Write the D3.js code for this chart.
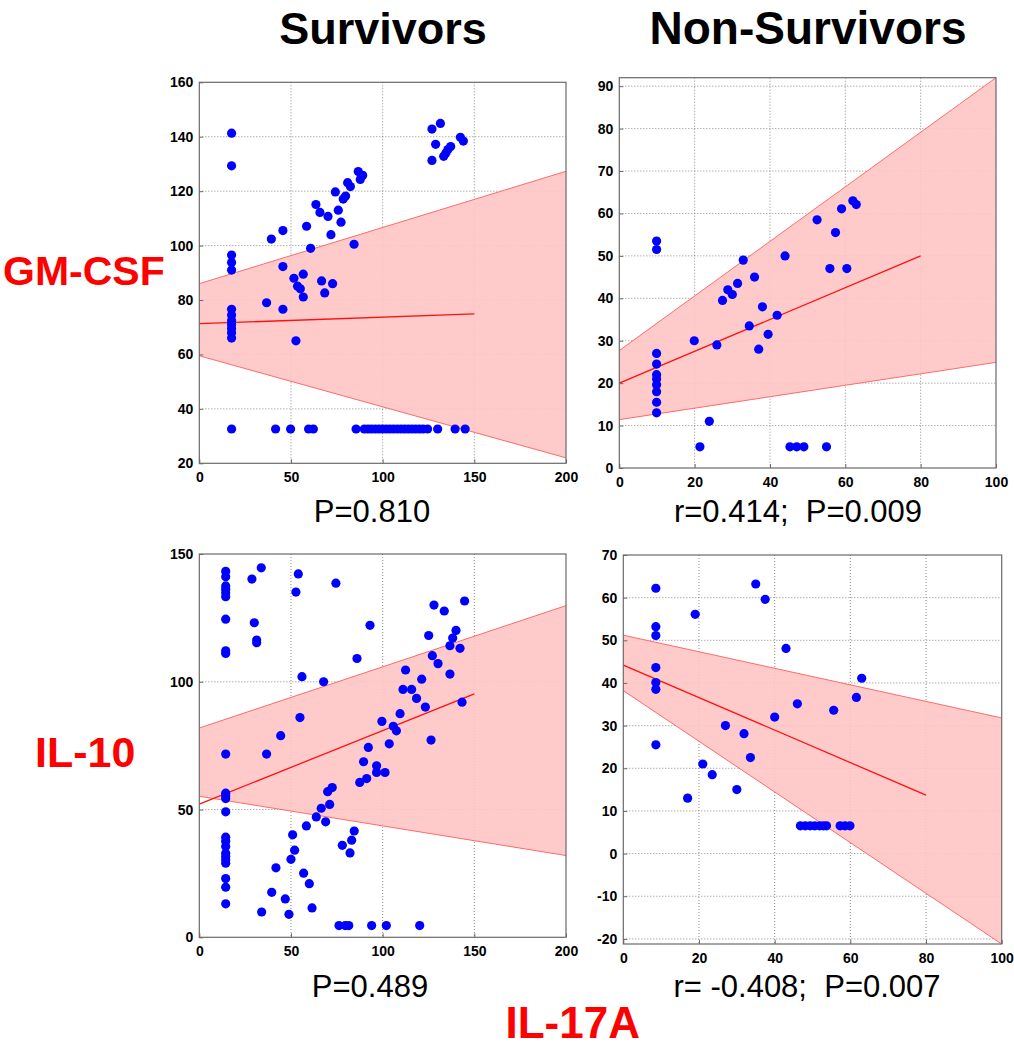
<!DOCTYPE html>
<html><head><meta charset="utf-8">
<script src="https://cdn.jsdelivr.net/npm/d3@7"></script>
<style>
html,body{margin:0;padding:0;background:#fff;}
svg{display:block;font-family:"Liberation Sans",Arial,sans-serif;}
</style></head>
<body>
<script>
// ---------- DATA ----------
// Panel 1: GM-CSF, Survivors
const gmSurvX = [17.6,17.6,17.6,17.6,17.6,17.6,17.6,17.6,17.6,17.6,17.6,17.6,17.6,
  39.3,45.6,45.6,51.6,56.7,58.5,60.7,63.6,65.8,66.7,70.2,71.8,74.2,75.8,77.3,78.5,79.8,80.9,82.4,84.4,86.7,87.8,89.1,
  126.9,126.9,128.9,131.5,133.3,134.5,135.6,137.1,142.4,144,
  53.6,55.1,56.7,68.4,72.7,36.7,45.6,52.7,
  41.6,49.8,59.6,62.2,85.5,90,92,94,96,98,100,102,104,106,108,110,112,114,116,118,120,122,124.5,130,139.5,145];
const gmSurvY = [141.3,129.3,96.5,93.8,91,76.6,74.5,72.5,71,69.5,68,66,32.6,
  102.4,105.5,92.3,88,89.5,107.1,99,115.1,112.2,87,110.7,104,119.7,113,108.6,117.1,118.2,123.1,121.7,100.5,127.2,124.3,125.8,
  142.8,131.3,137.2,144.9,132.8,134,135.3,136.4,139.8,138.4,
  85.1,84.1,81.1,82.6,86,79,76.6,65,
  32.6,32.6,32.6,32.6,32.6,32.6,32.6,32.6,32.6,32.6,32.6,32.6,32.6,32.6,32.6,32.6,32.6,32.6,32.6,32.6,32.6,32.6,32.6,32.6,32.6,32.6];
const gmSurvBandX = [0, 200];
const gmSurvUpper = [86, 127.3];
const gmSurvLower = [59.5, 22];
const gmSurvFitX = [0, 150];
const gmSurvFitY = [71.3, 74.9];

// Panel 2: GM-CSF, Non-Survivors
const gmNonX = [9.9,9.9,32.9,44,52.5,57.4,59,62,62.9,55.9,60.4,35.9,28.8,31.4,30,27.4,38,41.9,34.5,39.5,37,19.9,25.9,
  9.9,9.9,9.9,9.9,9.9,9.9,9.9,9.9,23.9,21.4,45.3,47.1,49,55];
const gmNonY = [53.5,51.5,49,50,58.5,55.5,61.1,63,62.1,47,47,45,42,43.5,40.9,39.5,38,36,33.5,31.5,28,30,29,
  27,24.5,22,21,19.6,18,15.5,13,11,5,5,5,5,5];
const gmNonBandX = [0, 100];
const gmNonUpper = [27.7, 92];
const gmNonLower = [11.4, 24.9];
const gmNonFitX = [0, 80];
const gmNonFitY = [20, 50];

// Panel 3: IL-10, Survivors
const il10SurvX = [14.4,14.4,14.4,14.4,14.4,14.4,14.4,14.4,14.4,14.4,14.4,14.4,14.4,14.4,14.4,14.4,14.4,14.4,14.4,14.4,14.4,14.4,14.4,14.4,
  28.7,33.8,30,31.3,31.3,54,52.7,56,67.8,74.5,86,93.1,54.9,44.4,99.6,105.8,107.5,109.5,112.5,111.1,115.8,118.5,121.3,123.3,125.1,127.1,128,130.2,133.6,136.7,136.7,138.2,140,142.2,143.3,144.7,
  36.7,34,39.5,41.8,46.9,48.9,50,50.9,52,56.9,58.4,60,61.5,63.8,66.5,68.9,70,71.1,72.5,78,82.2,83.1,84.5,87.5,89.6,91.3,92.2,96.7,96.7,101.3,103.6,126.4,
  76.2,79.6,81.5,94,102,120.2];
const il10SurvY = [143.2,141.1,137.5,136.2,134.8,133.3,124.5,112.1,111.1,71.7,56.4,55.4,54.3,49.1,39.2,37.6,35.5,32.9,31.6,30.3,29,23,19.6,13.1,
  140.2,144.6,123.1,116.3,115.3,142.2,135.1,102,100,138.6,109.1,122.1,86,78.9,84.5,82.6,80.8,87.5,104.6,97,97,93.5,101,90.1,118.1,110.2,130,107.1,127.7,114.1,103,117.1,120.1,113.1,92,131.6,
  71.7,9.9,17.6,27.2,15,9,30.5,40.1,34.1,25.1,43.6,21,11.5,47.1,50.5,45.2,57,52,58.6,36,33,38,41.6,60.6,68.7,62.1,74.3,67.1,64.5,64.5,75.7,77.2,
  4.6,4.6,4.6,4.6,4.6,4.6];
const il10SurvBandX = [0, 200];
const il10SurvUpper = [81.9, 129.8];
const il10SurvLower = [55.2, 32];
const il10SurvFitX = [0, 150];
const il10SurvFitY = [52.1, 95.3];

// Panel 4: IL-10, Non-Survivors
const il10NonX = [8.6,8.6,8.6,8.6,8.6,8.6,8.6,19,35,37.5,43,63,61.6,46,55.6,40,27,31.9,17,21,23.5,30,33.6,
  46.8,48.1,49.4,50.6,51.9,52.9,53.7,57.3,58.6,59.9];
const il10NonY = [62.2,53.2,51.1,43.6,40.1,38.5,25.5,56.1,63.2,59.6,48.1,41.1,36.6,35.1,33.6,32,30,28.1,13,21,18.5,15,22.5,
  6.5,6.5,6.5,6.5,6.5,6.5,6.5,6.5,6.5,6.5];
const il10NonBandX = [0, 100];
const il10NonUpper = [51.2, 31.8];
const il10NonLower = [38.2, -21.2];
const il10NonFitX = [0, 80];
const il10NonFitY = [44.2, 13.7];

// Tick values
const xTicks200 = [0, 50, 100, 150, 200];
const xTicks100 = [0, 20, 40, 60, 80, 100];
const yTicksGmSurv = [20, 40, 60, 80, 100, 120, 140, 160];
const yTicksGmNon = [0, 10, 20, 30, 40, 50, 60, 70, 80, 90];
const yTicksIl10Surv = [0, 50, 100, 150];
const yTicksIl10Non = [-20, -10, 0, 10, 20, 30, 40, 50, 60, 70];

// Text
const colTitles = ["Survivors", "Non-Survivors"];
const rowTitles = ["GM-CSF", "IL-10"];
const xTitle = "IL-17A";
const stats = ["P=0.810", "r=0.414;  P=0.009", "P=0.489", "r= -0.408;  P=0.007"];

// ---------- DRAW ----------
const W = 1014, H = 1050;
const svg = d3.select("body").append("svg").attr("width", W).attr("height", H);

const panels = [
  {box:[199.3,566,82.3,463.3], xd:[0,200], yd:[20,160], xt:xTicks200, yt:yTicksGmSurv,
   xs:gmSurvX, ys:gmSurvY, bx:gmSurvBandX, bu:gmSurvUpper, bl:gmSurvLower, fx:gmSurvFitX, fy:gmSurvFitY},
  {box:[619.3,996,77.7,468], xd:[0,100], yd:[0,92], xt:xTicks100, yt:yTicksGmNon,
   xs:gmNonX, ys:gmNonY, bx:gmNonBandX, bu:gmNonUpper, bl:gmNonLower, fx:gmNonFitX, fy:gmNonFitY},
  {box:[199.3,566,554,937.3], xd:[0,200], yd:[0,150], xt:xTicks200, yt:yTicksIl10Surv,
   xs:il10SurvX, ys:il10SurvY, bx:il10SurvBandX, bu:il10SurvUpper, bl:il10SurvLower, fx:il10SurvFitX, fy:il10SurvFitY},
  {box:[623.3,1001.7,555,944], xd:[0,100], yd:[-21.2,70], xt:xTicks100, yt:yTicksIl10Non,
   xs:il10NonX, ys:il10NonY, bx:il10NonBandX, bu:il10NonUpper, bl:il10NonLower, fx:il10NonFitX, fy:il10NonFitY}
];

const fmt = d => String(d);

panels.forEach((p, i) => {
  const [l, r, t, b] = p.box;
  const x = d3.scaleLinear().domain(p.xd).range([l, r]);
  const y = d3.scaleLinear().domain(p.yd).range([b, t]);
  const g = svg.append("g");
  const clipId = "clip" + i;
  svg.append("clipPath").attr("id", clipId).append("rect")
    .attr("x", l).attr("y", t).attr("width", r - l).attr("height", b - t);

  // grid
  const grid = g.append("g").attr("class", "grid");
  grid.selectAll("line.gx").data(p.xt.filter(v => v > p.xd[0] && v < p.xd[1])).join("line")
    .attr("x1", d => x(d)).attr("x2", d => x(d)).attr("y1", t).attr("y2", b)
    .attr("stroke", "#8a8a8a").attr("stroke-width", 1).attr("stroke-dasharray", "1,2");
  grid.selectAll("line.gy").data(p.yt.filter(v => v > p.yd[0] && v < p.yd[1])).join("line")
    .attr("x1", l).attr("x2", r).attr("y1", d => y(d)).attr("y2", d => y(d))
    .attr("stroke", "#8a8a8a").attr("stroke-width", 1).attr("stroke-dasharray", "1,2");

  // band
  const bandPts = p.bx.map((v, k) => [v, p.bu[k], p.bl[k]]);
  const area = d3.area().x(d => x(d[0])).y0(d => y(d[2])).y1(d => y(d[1]));
  const cg = g.append("g").attr("clip-path", `url(#${clipId})`);
  cg.append("path").datum(bandPts).attr("d", area)
    .attr("fill", "#ffc4c4").attr("fill-opacity", 0.9);
  const line = d3.line().x(d => x(d[0])).y(d => y(d[1]));
  cg.append("path").datum(p.bx.map((v, k) => [v, p.bu[k]])).attr("d", line)
    .attr("fill", "none").attr("stroke", "#ff6a6a").attr("stroke-width", 1);
  cg.append("path").datum(p.bx.map((v, k) => [v, p.bl[k]])).attr("d", line)
    .attr("fill", "none").attr("stroke", "#ff6a6a").attr("stroke-width", 1);
  // fit line
  cg.append("path").datum(p.fx.map((v, k) => [v, p.fy[k]])).attr("d", line)
    .attr("fill", "none").attr("stroke", "#ff1010").attr("stroke-width", 1.3);

  // points
  g.append("g").selectAll("circle").data(p.xs.map((v, k) => [v, p.ys[k]])).join("circle")
    .attr("cx", d => x(d[0])).attr("cy", d => y(d[1])).attr("r", 4.6).attr("fill", "#0000ff");

  // frame
  g.append("rect").attr("x", l).attr("y", t).attr("width", r - l).attr("height", b - t)
    .attr("fill", "none").attr("stroke", "#6a6a6a").attr("stroke-width", 1.2);

  // axes
  const xa = g.append("g").attr("transform", `translate(0,${b})`)
    .call(d3.axisBottom(x).tickValues(p.xt).tickSize(-4).tickPadding(9).tickFormat(fmt));
  const ya = g.append("g").attr("transform", `translate(${l},0)`)
    .call(d3.axisLeft(y).tickValues(p.yt).tickSize(-4).tickPadding(6).tickFormat(fmt));
  [xa, ya].forEach(a => {
    a.select(".domain").remove();
    a.selectAll(".tick line").attr("stroke", "#6a6a6a");
    a.selectAll("text").attr("font-size", 14).attr("font-weight", "bold")
      .attr("fill", "#000").attr("font-family", "'Liberation Sans',Arial,sans-serif");
  });
});

// titles
const txt = (s, xp, yp, size, opts = {}) => svg.append("text").text(s)
  .attr("x", xp).attr("y", yp).attr("font-size", size)
  .attr("font-weight", opts.bold ? "bold" : "normal")
  .attr("fill", opts.color || "#000")
  .attr("text-anchor", opts.anchor || "middle")
  .style("white-space", "pre");

txt(colTitles[0], 383, 44, 45, {bold: true});
txt(colTitles[1], 808, 44, 46, {bold: true});
txt(rowTitles[0], 3, 285, 41, {bold: true, color: "#ff0000", anchor: "start"});
txt(rowTitles[1], 35, 767, 43, {bold: true, color: "#ff0000", anchor: "start"});
txt(xTitle, 640, 1038, 44, {bold: true, color: "#ff0000", anchor: "end"});
txt(stats[0], 372, 522, 31);
txt(stats[1], 798, 522, 31);
txt(stats[2], 370, 997, 31);
txt(stats[3], 807, 997, 31);
</script>
</body></html>
